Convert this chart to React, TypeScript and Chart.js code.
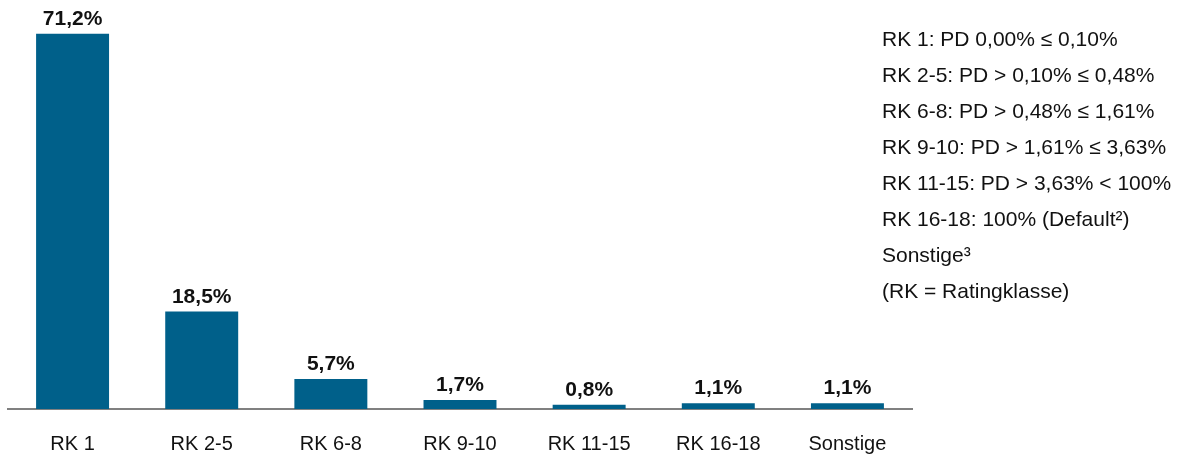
import React, { useEffect, useRef } from "react";
import { Chart, registerables } from "chart.js";

Chart.register(...registerables);

const categories = ["RK 1", "RK 2-5", "RK 6-8", "RK 9-10", "RK 11-15", "RK 16-18", "Sonstige"];
const shares = [71.2, 18.5, 5.7, 1.7, 0.8, 1.1, 1.1];
const legendLines = [
  "RK 1: PD 0,00% ≤ 0,10%",
  "RK 2-5: PD > 0,10% ≤ 0,48%",
  "RK 6-8: PD > 0,48% ≤ 1,61%",
  "RK 9-10: PD > 1,61% ≤ 3,63%",
  "RK 11-15: PD > 3,63% < 100%",
  "RK 16-18: 100% (Default²)",
  "Sonstige³",
  "(RK = Ratingklasse)",
];

const FONT = "'Liberation Sans', Arial, Helvetica, sans-serif";
const BAR_COLOR = "#00608a";

const fmt = (v: number) => v.toFixed(1).replace(".", ",") + "%";

const valueLabels = {
  id: "valueLabels",
  afterDatasetsDraw(chart: any) {
    const ctx = chart.ctx;
    const meta = chart.getDatasetMeta(0);
    ctx.save();
    ctx.font = `bold 21px ${FONT}`;
    ctx.fillStyle = "#111";
    ctx.textAlign = "center";
    ctx.textBaseline = "alphabetic";
    meta.data.forEach((bar: any, i: number) => {
      ctx.fillText(fmt(shares[i]), bar.x, bar.y - 9);
    });
    ctx.restore();
  },
};

export default function App() {
  const ref = useRef<HTMLCanvasElement | null>(null);

  useEffect(() => {
    if (!ref.current) return;
    const chart = new Chart(ref.current, {
      type: "bar",
      data: {
        labels: categories,
        datasets: [
          {
            data: shares,
            backgroundColor: BAR_COLOR,
            barPercentage: 0.565,
            categoryPercentage: 1,
          },
        ],
      },
      options: {
        animation: false,
        responsive: false,
        maintainAspectRatio: false,
        layout: { padding: { left: 8, right: 269, top: 19, bottom: 0 } },
        plugins: { legend: { display: false }, tooltip: { enabled: false } },
        scales: {
          x: {
            grid: { display: false },
            border: { display: true, color: "#808080", width: 2 },
            ticks: {
              color: "#111",
              padding: 15,
              font: { family: FONT, size: 20 },
              maxRotation: 0,
            },
            afterFit(scale: any) {
              scale.height = 47;
            },
          },
          y: {
            display: false,
            min: 0,
            max: 74,
          },
        },
      },
      plugins: [valueLabels],
    });
    return () => chart.destroy();
  }, []);

  return (
    <div style={{ position: "absolute", left: 0, top: 0, width: 1181, height: 456, background: "#fff" }}>
      <canvas ref={ref} width={1181} height={456} style={{ position: "absolute", left: 0, top: 0 }} />
      <div
        style={{
          position: "absolute",
          left: 882,
          top: 21,
          fontFamily: FONT,
          fontSize: 21,
          lineHeight: "36px",
          color: "#111",
          whiteSpace: "nowrap",
        }}
      >
        {legendLines.map((t) => (
          <div key={t}>{t}</div>
        ))}
      </div>
    </div>
  );
}
